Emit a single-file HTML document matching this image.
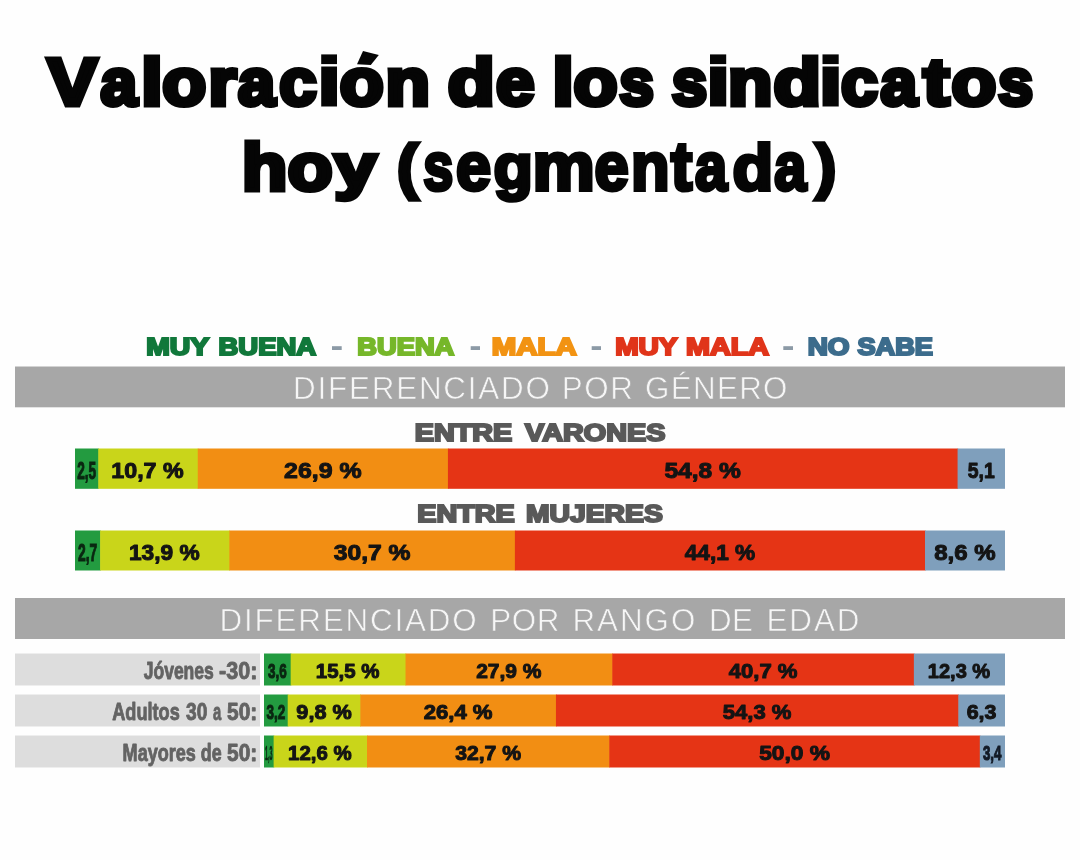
<!DOCTYPE html><html><head><meta charset="utf-8"><title>Valoración de los sindicatos hoy</title>
<style>html,body{margin:0;padding:0;background:#fefefe;}body{width:1080px;height:860px;overflow:hidden;font-family:"Liberation Sans", sans-serif;}svg{display:block;font-family:"Liberation Sans", sans-serif;will-change:transform;}</style></head><body>
<svg width="1080" height="860" viewBox="0 0 1080 860" shape-rendering="geometricPrecision">
<rect x="0" y="0" width="1080" height="860" fill="#fefefe"/>
<rect x="15.00" y="366.50" width="1050.00" height="40.80" fill="#a7a7a7"/>
<rect x="15.00" y="598.00" width="1050.00" height="41.00" fill="#a7a7a7"/>
<rect x="75.00" y="448.50" width="23.85" height="40.30" fill="#239b40"/>
<rect x="98.25" y="448.50" width="100.11" height="40.30" fill="#c9d51a"/>
<rect x="197.76" y="448.50" width="250.77" height="40.30" fill="#f28e13"/>
<rect x="447.93" y="448.50" width="510.24" height="40.30" fill="#e53415"/>
<rect x="957.57" y="448.50" width="47.43" height="40.30" fill="#7f9fbc"/>
<rect x="75.00" y="530.50" width="25.71" height="40.00" fill="#239b40"/>
<rect x="100.11" y="530.50" width="129.87" height="40.00" fill="#c9d51a"/>
<rect x="229.38" y="530.50" width="286.11" height="40.00" fill="#f28e13"/>
<rect x="514.89" y="530.50" width="410.73" height="40.00" fill="#e53415"/>
<rect x="925.02" y="530.50" width="79.98" height="40.00" fill="#7f9fbc"/>
<rect x="264.00" y="653.50" width="27.28" height="32.00" fill="#239b40"/>
<rect x="290.68" y="653.50" width="115.46" height="32.00" fill="#c9d51a"/>
<rect x="405.53" y="653.50" width="207.34" height="32.00" fill="#f28e13"/>
<rect x="612.27" y="653.50" width="302.19" height="32.00" fill="#e53415"/>
<rect x="913.86" y="653.50" width="91.14" height="32.00" fill="#7f9fbc"/>
<rect x="264.00" y="694.50" width="24.31" height="32.00" fill="#239b40"/>
<rect x="287.71" y="694.50" width="73.22" height="32.00" fill="#c9d51a"/>
<rect x="360.33" y="694.50" width="196.22" height="32.00" fill="#f28e13"/>
<rect x="555.95" y="694.50" width="402.96" height="32.00" fill="#e53415"/>
<rect x="958.32" y="694.50" width="46.68" height="32.00" fill="#7f9fbc"/>
<rect x="264.00" y="735.50" width="10.23" height="32.00" fill="#239b40"/>
<rect x="273.63" y="735.50" width="93.97" height="32.00" fill="#c9d51a"/>
<rect x="367.00" y="735.50" width="242.91" height="32.00" fill="#f28e13"/>
<rect x="609.31" y="735.50" width="371.10" height="32.00" fill="#e53415"/>
<rect x="979.81" y="735.50" width="25.19" height="32.00" fill="#7f9fbc"/>
<rect x="15.00" y="653.50" width="245.00" height="32.00" fill="#dddddd"/>
<rect x="15.00" y="694.50" width="245.00" height="32.00" fill="#dddddd"/>
<rect x="15.00" y="735.50" width="245.00" height="32.00" fill="#dddddd"/>
<rect x="332.00" y="346.20" width="9.70" height="3.80" fill="#8c9aa6"/>
<rect x="470.70" y="346.20" width="9.30" height="3.80" fill="#8c9aa6"/>
<rect x="591.70" y="346.20" width="9.30" height="3.80" fill="#8c9aa6"/>
<rect x="783.30" y="346.20" width="9.70" height="3.80" fill="#8c9aa6"/>
<text transform="translate(77.14,478.69) scale(0.5579,1.0000)" font-size="24.4" font-weight="bold" fill="#0a2611" stroke="#0a2611" stroke-width="1.1" stroke-linejoin="miter" stroke-miterlimit="3">2,5</text>
<text transform="translate(111.34,477.66) scale(1.0805,1.0000)" font-size="21.5" font-weight="bold" fill="#141414" stroke="#141414" stroke-width="1.0" stroke-linejoin="round" stroke-miterlimit="3">10,7 %</text>
<text transform="translate(284.04,477.66) scale(1.1579,1.0000)" font-size="21.5" font-weight="bold" fill="#141414" stroke="#141414" stroke-width="1.0" stroke-linejoin="round" stroke-miterlimit="3">26,9 %</text>
<text transform="translate(664.44,477.66) scale(1.1431,1.0000)" font-size="21.5" font-weight="bold" fill="#141414" stroke="#141414" stroke-width="1.0" stroke-linejoin="round" stroke-miterlimit="3">54,8 %</text>
<text transform="translate(967.71,477.66) scale(0.9023,1.0000)" font-size="21.5" font-weight="bold" fill="#141414" stroke="#141414" stroke-width="1.0" stroke-linejoin="round" stroke-miterlimit="3">5,1</text>
<text transform="translate(78.07,560.54) scale(0.5679,1.0000)" font-size="24.4" font-weight="bold" fill="#0a2611" stroke="#0a2611" stroke-width="1.1" stroke-linejoin="miter" stroke-miterlimit="3">2,7</text>
<text transform="translate(128.90,559.51) scale(1.0564,1.0000)" font-size="21.5" font-weight="bold" fill="#141414" stroke="#141414" stroke-width="1.0" stroke-linejoin="round" stroke-miterlimit="3">13,9 %</text>
<text transform="translate(333.72,559.51) scale(1.1469,1.0000)" font-size="21.5" font-weight="bold" fill="#141414" stroke="#141414" stroke-width="1.0" stroke-linejoin="round" stroke-miterlimit="3">30,7 %</text>
<text transform="translate(684.68,559.51) scale(1.0553,1.0000)" font-size="21.5" font-weight="bold" fill="#141414" stroke="#141414" stroke-width="1.0" stroke-linejoin="round" stroke-miterlimit="3">44,1 %</text>
<text transform="translate(934.25,559.51) scale(1.1178,1.0000)" font-size="21.5" font-weight="bold" fill="#141414" stroke="#141414" stroke-width="1.0" stroke-linejoin="round" stroke-miterlimit="3">8,6 %</text>
<text transform="translate(267.91,677.58) scale(0.6749,1.0000)" font-size="20.0" font-weight="bold" fill="#0a2611" stroke="#0a2611" stroke-width="1.1" stroke-linejoin="miter" stroke-miterlimit="3">3,6</text>
<text transform="translate(315.84,677.58) scale(1.0224,1.0000)" font-size="20.0" font-weight="bold" fill="#141414" stroke="#141414" stroke-width="1.0" stroke-linejoin="round" stroke-miterlimit="3">15,5 %</text>
<text transform="translate(476.19,677.58) scale(1.0496,1.0000)" font-size="20.0" font-weight="bold" fill="#141414" stroke="#141414" stroke-width="1.0" stroke-linejoin="round" stroke-miterlimit="3">27,9 %</text>
<text transform="translate(728.74,677.58) scale(1.1052,1.0000)" font-size="20.0" font-weight="bold" fill="#141414" stroke="#141414" stroke-width="1.0" stroke-linejoin="round" stroke-miterlimit="3">40,7 %</text>
<text transform="translate(927.83,677.58) scale(1.0013,1.0000)" font-size="20.0" font-weight="bold" fill="#141414" stroke="#141414" stroke-width="1.0" stroke-linejoin="round" stroke-miterlimit="3">12,3 %</text>
<text transform="translate(266.43,718.58) scale(0.6752,1.0000)" font-size="20.0" font-weight="bold" fill="#0a2611" stroke="#0a2611" stroke-width="1.1" stroke-linejoin="miter" stroke-miterlimit="3">3,2</text>
<text transform="translate(296.36,718.58) scale(1.0819,1.0000)" font-size="20.0" font-weight="bold" fill="#141414" stroke="#141414" stroke-width="1.0" stroke-linejoin="round" stroke-miterlimit="3">9,8 %</text>
<text transform="translate(423.69,718.58) scale(1.1057,1.0000)" font-size="20.0" font-weight="bold" fill="#141414" stroke="#141414" stroke-width="1.0" stroke-linejoin="round" stroke-miterlimit="3">26,4 %</text>
<text transform="translate(722.80,718.58) scale(1.1021,1.0000)" font-size="20.0" font-weight="bold" fill="#141414" stroke="#141414" stroke-width="1.0" stroke-linejoin="round" stroke-miterlimit="3">54,3 %</text>
<text transform="translate(966.70,718.58) scale(1.0690,1.0000)" font-size="20.0" font-weight="bold" fill="#141414" stroke="#141414" stroke-width="1.0" stroke-linejoin="round" stroke-miterlimit="3">6,3</text>
<text transform="translate(265.01,759.58) scale(0.2682,1.0000)" font-size="20.0" font-weight="bold" fill="#0a2611" stroke="#0a2611" stroke-width="0.5" stroke-linejoin="miter" stroke-miterlimit="3">1,3</text>
<text transform="translate(288.11,759.58) scale(1.0208,1.0000)" font-size="20.0" font-weight="bold" fill="#141414" stroke="#141414" stroke-width="1.0" stroke-linejoin="round" stroke-miterlimit="3">12,6 %</text>
<text transform="translate(455.15,759.58) scale(1.0600,1.0000)" font-size="20.0" font-weight="bold" fill="#141414" stroke="#141414" stroke-width="1.0" stroke-linejoin="round" stroke-miterlimit="3">32,7 %</text>
<text transform="translate(759.13,759.58) scale(1.1373,1.0000)" font-size="20.0" font-weight="bold" fill="#141414" stroke="#141414" stroke-width="1.0" stroke-linejoin="round" stroke-miterlimit="3">50,0 %</text>
<text transform="translate(982.98,759.58) scale(0.6654,1.0000)" font-size="20.0" font-weight="bold" fill="#121a26" stroke="#121a26" stroke-width="1.1" stroke-linejoin="miter" stroke-miterlimit="3">3,4</text>
<text transform="translate(143.68,678.55) scale(0.7275,1.0000)" font-size="24.1" font-weight="bold" fill="#636363" stroke="#636363" stroke-width="0.9" stroke-linejoin="round" stroke-miterlimit="3">Jóvenes</text>
<text transform="translate(218.98,678.55) scale(0.8955,1.0000)" font-size="24.1" font-weight="bold" fill="#636363" stroke="#636363" stroke-width="0.9" stroke-linejoin="round" stroke-miterlimit="3">-30:</text>
<text transform="translate(112.23,719.55) scale(0.7528,1.0000)" font-size="24.1" font-weight="bold" fill="#636363" stroke="#636363" stroke-width="0.9" stroke-linejoin="round" stroke-miterlimit="3">Adultos</text>
<text transform="translate(186.05,719.55) scale(0.7953,1.0000)" font-size="24.1" font-weight="bold" fill="#636363" stroke="#636363" stroke-width="0.9" stroke-linejoin="round" stroke-miterlimit="3">30</text>
<text transform="translate(212.92,719.55) scale(0.6125,1.0000)" font-size="24.1" font-weight="bold" fill="#636363" stroke="#636363" stroke-width="0.9" stroke-linejoin="round" stroke-miterlimit="3">a</text>
<text transform="translate(226.99,719.55) scale(0.8699,1.0000)" font-size="24.1" font-weight="bold" fill="#636363" stroke="#636363" stroke-width="0.9" stroke-linejoin="round" stroke-miterlimit="3">50:</text>
<text transform="translate(122.60,760.55) scale(0.7497,1.0000)" font-size="24.1" font-weight="bold" fill="#636363" stroke="#636363" stroke-width="0.9" stroke-linejoin="round" stroke-miterlimit="3">Mayores</text>
<text transform="translate(200.78,760.55) scale(0.7417,1.0000)" font-size="24.1" font-weight="bold" fill="#636363" stroke="#636363" stroke-width="0.9" stroke-linejoin="round" stroke-miterlimit="3">de</text>
<text transform="translate(226.99,760.55) scale(0.8699,1.0000)" font-size="24.1" font-weight="bold" fill="#636363" stroke="#636363" stroke-width="0.9" stroke-linejoin="round" stroke-miterlimit="3">50:</text>
<text transform="translate(47.59,104.50) scale(1.1271,1.0000)" font-size="66.3" font-weight="bold" fill="#050505" stroke="#050505" stroke-width="5.0" stroke-linejoin="miter" stroke-miterlimit="3">V</text>
<text transform="translate(100.51,104.50) scale(0.9927,1.0000)" font-size="66.3" font-weight="bold" fill="#050505" stroke="#050505" stroke-width="5.0" stroke-linejoin="miter" stroke-miterlimit="3">a</text>
<text transform="translate(141.22,104.50) scale(1.1581,1.0000)" font-size="66.3" font-weight="bold" fill="#050505" stroke="#050505" stroke-width="5.0" stroke-linejoin="miter" stroke-miterlimit="3">l</text>
<text transform="translate(162.36,104.50) scale(1.0858,1.0000)" font-size="66.3" font-weight="bold" fill="#050505" stroke="#050505" stroke-width="5.0" stroke-linejoin="miter" stroke-miterlimit="3">o</text>
<text transform="translate(208.58,104.50) scale(1.0854,1.0000)" font-size="66.3" font-weight="bold" fill="#050505" stroke="#050505" stroke-width="5.0" stroke-linejoin="miter" stroke-miterlimit="3">r</text>
<text transform="translate(238.02,104.50) scale(1.0051,1.0000)" font-size="66.3" font-weight="bold" fill="#050505" stroke="#050505" stroke-width="5.0" stroke-linejoin="miter" stroke-miterlimit="3">a</text>
<text transform="translate(279.36,104.50) scale(1.0135,1.0000)" font-size="66.3" font-weight="bold" fill="#050505" stroke="#050505" stroke-width="5.0" stroke-linejoin="miter" stroke-miterlimit="3">c</text>
<text transform="translate(318.72,103.97) scale(1.1217,1.0098)" font-size="66.3" font-weight="bold" fill="#050505" stroke="#050505" stroke-width="5.0" stroke-linejoin="miter" stroke-miterlimit="3">ı</text>
<text transform="translate(339.86,104.50) scale(1.0858,1.0000)" font-size="66.3" font-weight="bold" fill="#050505" stroke="#050505" stroke-width="5.0" stroke-linejoin="miter" stroke-miterlimit="3">o</text>
<text transform="translate(385.56,104.50) scale(1.0969,1.0000)" font-size="66.3" font-weight="bold" fill="#050505" stroke="#050505" stroke-width="5.0" stroke-linejoin="miter" stroke-miterlimit="3">n</text>
<text transform="translate(447.70,104.50) scale(1.1580,1.0000)" font-size="66.3" font-weight="bold" fill="#050505" stroke="#050505" stroke-width="5.0" stroke-linejoin="miter" stroke-miterlimit="3">d</text>
<text transform="translate(496.05,104.50) scale(1.0438,1.0000)" font-size="66.3" font-weight="bold" fill="#050505" stroke="#050505" stroke-width="5.0" stroke-linejoin="miter" stroke-miterlimit="3">e</text>
<text transform="translate(552.53,104.50) scale(1.1510,1.0000)" font-size="66.3" font-weight="bold" fill="#050505" stroke="#050505" stroke-width="5.0" stroke-linejoin="miter" stroke-miterlimit="3">l</text>
<text transform="translate(573.55,104.50) scale(1.0883,1.0000)" font-size="66.3" font-weight="bold" fill="#050505" stroke="#050505" stroke-width="5.0" stroke-linejoin="miter" stroke-miterlimit="3">o</text>
<text transform="translate(619.31,104.50) scale(0.9398,1.0000)" font-size="66.3" font-weight="bold" fill="#050505" stroke="#050505" stroke-width="5.0" stroke-linejoin="miter" stroke-miterlimit="3">s</text>
<text transform="translate(671.83,104.50) scale(0.9613,1.0000)" font-size="66.3" font-weight="bold" fill="#050505" stroke="#050505" stroke-width="5.0" stroke-linejoin="miter" stroke-miterlimit="3">s</text>
<text transform="translate(707.46,103.97) scale(1.1501,1.0098)" font-size="66.3" font-weight="bold" fill="#050505" stroke="#050505" stroke-width="5.0" stroke-linejoin="miter" stroke-miterlimit="3">ı</text>
<text transform="translate(728.06,104.50) scale(1.0969,1.0000)" font-size="66.3" font-weight="bold" fill="#050505" stroke="#050505" stroke-width="5.0" stroke-linejoin="miter" stroke-miterlimit="3">n</text>
<text transform="translate(773.40,104.50) scale(1.1710,1.0000)" font-size="66.3" font-weight="bold" fill="#050505" stroke="#050505" stroke-width="5.0" stroke-linejoin="miter" stroke-miterlimit="3">d</text>
<text transform="translate(819.96,103.97) scale(1.1501,1.0098)" font-size="66.3" font-weight="bold" fill="#050505" stroke="#050505" stroke-width="5.0" stroke-linejoin="miter" stroke-miterlimit="3">ı</text>
<text transform="translate(841.06,104.50) scale(1.0002,1.0000)" font-size="66.3" font-weight="bold" fill="#050505" stroke="#050505" stroke-width="5.0" stroke-linejoin="miter" stroke-miterlimit="3">c</text>
<text transform="translate(880.51,104.50) scale(0.9927,1.0000)" font-size="66.3" font-weight="bold" fill="#050505" stroke="#050505" stroke-width="5.0" stroke-linejoin="miter" stroke-miterlimit="3">a</text>
<text transform="translate(923.17,104.50) scale(1.1804,1.0000)" font-size="66.3" font-weight="bold" fill="#050505" stroke="#050505" stroke-width="5.0" stroke-linejoin="miter" stroke-miterlimit="3">t</text>
<text transform="translate(951.55,104.50) scale(1.1057,1.0000)" font-size="66.3" font-weight="bold" fill="#050505" stroke="#050505" stroke-width="5.0" stroke-linejoin="miter" stroke-miterlimit="3">o</text>
<text transform="translate(998.12,104.50) scale(0.9532,1.0000)" font-size="66.3" font-weight="bold" fill="#050505" stroke="#050505" stroke-width="5.0" stroke-linejoin="miter" stroke-miterlimit="3">s</text>
<text transform="translate(242.10,189.50) scale(1.1169,1.0000)" font-size="66.28787878787878" font-weight="bold" fill="#050505" stroke="#050505" stroke-width="5.0" stroke-linejoin="miter" stroke-miterlimit="3">h</text>
<text transform="translate(287.85,189.50) scale(1.1061,1.0000)" font-size="66.28787878787878" font-weight="bold" fill="#050505" stroke="#050505" stroke-width="5.0" stroke-linejoin="miter" stroke-miterlimit="3">o</text>
<text transform="translate(334.36,186.89) scale(1.1492,0.9182)" font-size="66.28787878787878" font-weight="bold" fill="#050505" stroke="#050505" stroke-width="5.0" stroke-linejoin="miter" stroke-miterlimit="3">y</text>
<text transform="translate(396.63,187.41) scale(0.9588,0.8868)" font-size="68.18181818181817" font-weight="bold" fill="#050505" stroke="#050505" stroke-width="4.0" stroke-linejoin="miter" stroke-miterlimit="3">(</text>
<text transform="translate(423.14,190.00) scale(0.7915,1.0000)" font-size="68.18181818181817" font-weight="bold" fill="#050505" stroke="#050505" stroke-width="4.0" stroke-linejoin="miter" stroke-miterlimit="3">s</text>
<text transform="translate(456.07,190.00) scale(0.9245,1.0000)" font-size="68.18181818181817" font-weight="bold" fill="#050505" stroke="#050505" stroke-width="4.0" stroke-linejoin="miter" stroke-miterlimit="3">e</text>
<text transform="translate(493.42,187.81) scale(0.9467,0.9182)" font-size="68.18181818181817" font-weight="bold" fill="#050505" stroke="#050505" stroke-width="4.0" stroke-linejoin="miter" stroke-miterlimit="3">g</text>
<text transform="translate(532.52,190.00) scale(1.0273,1.0000)" font-size="68.18181818181817" font-weight="bold" fill="#050505" stroke="#050505" stroke-width="4.0" stroke-linejoin="miter" stroke-miterlimit="3">m</text>
<text transform="translate(594.39,190.00) scale(0.9028,1.0000)" font-size="68.18181818181817" font-weight="bold" fill="#050505" stroke="#050505" stroke-width="4.0" stroke-linejoin="miter" stroke-miterlimit="3">e</text>
<text transform="translate(631.07,190.00) scale(0.9242,1.0000)" font-size="68.18181818181817" font-weight="bold" fill="#050505" stroke="#050505" stroke-width="4.0" stroke-linejoin="miter" stroke-miterlimit="3">n</text>
<text transform="translate(671.09,190.00) scale(0.9310,1.0000)" font-size="68.18181818181817" font-weight="bold" fill="#050505" stroke="#050505" stroke-width="4.0" stroke-linejoin="miter" stroke-miterlimit="3">t</text>
<text transform="translate(695.00,190.00) scale(0.8478,1.0000)" font-size="68.18181818181817" font-weight="bold" fill="#050505" stroke="#050505" stroke-width="4.0" stroke-linejoin="miter" stroke-miterlimit="3">a</text>
<text transform="translate(732.50,189.83) scale(0.9767,0.9582)" font-size="68.18181818181817" font-weight="bold" fill="#050505" stroke="#050505" stroke-width="4.0" stroke-linejoin="miter" stroke-miterlimit="3">d</text>
<text transform="translate(774.20,190.00) scale(0.8453,1.0000)" font-size="68.18181818181817" font-weight="bold" fill="#050505" stroke="#050505" stroke-width="4.0" stroke-linejoin="miter" stroke-miterlimit="3">a</text>
<text transform="translate(814.92,187.41) scale(0.9437,0.8868)" font-size="68.18181818181817" font-weight="bold" fill="#050505" stroke="#050505" stroke-width="4.0" stroke-linejoin="miter" stroke-miterlimit="3">)</text>
<text transform="translate(146.24,355.20) scale(1.1612,1.0000)" font-size="24.418604651162795" font-weight="bold" fill="#11783b" stroke="#11783b" stroke-width="2.2" stroke-linejoin="miter" stroke-miterlimit="3">MUY</text>
<text transform="translate(218.56,355.20) scale(1.1240,1.0000)" font-size="24.418604651162795" font-weight="bold" fill="#11783b" stroke="#11783b" stroke-width="2.2" stroke-linejoin="miter" stroke-miterlimit="3">BUENA</text>
<text transform="translate(357.36,355.20) scale(1.1171,1.0000)" font-size="24.418604651162795" font-weight="bold" fill="#76b72a" stroke="#76b72a" stroke-width="2.2" stroke-linejoin="miter" stroke-miterlimit="3">BUENA</text>
<text transform="translate(491.81,355.20) scale(1.2026,1.0000)" font-size="24.418604651162795" font-weight="bold" fill="#f29313" stroke="#f29313" stroke-width="2.2" stroke-linejoin="miter" stroke-miterlimit="3">MALA</text>
<text transform="translate(615.14,355.20) scale(1.1521,1.0000)" font-size="24.418604651162795" font-weight="bold" fill="#e0351a" stroke="#e0351a" stroke-width="2.2" stroke-linejoin="miter" stroke-miterlimit="3">MUY</text>
<text transform="translate(686.03,355.20) scale(1.1785,1.0000)" font-size="24.418604651162795" font-weight="bold" fill="#e0351a" stroke="#e0351a" stroke-width="2.2" stroke-linejoin="miter" stroke-miterlimit="3">MALA</text>
<text transform="translate(807.65,355.20) scale(1.1424,1.0000)" font-size="24.418604651162795" font-weight="bold" fill="#3c6c8c" stroke="#3c6c8c" stroke-width="2.2" stroke-linejoin="miter" stroke-miterlimit="3">NO</text>
<text transform="translate(857.44,355.20) scale(1.1119,1.0000)" font-size="24.418604651162795" font-weight="bold" fill="#3c6c8c" stroke="#3c6c8c" stroke-width="2.2" stroke-linejoin="miter" stroke-miterlimit="3">SABE</text>
<text transform="translate(414.76,440.60) scale(1.2356,1.0000)" font-size="23.255813953488374" font-weight="bold" fill="#595959" stroke="#595959" stroke-width="2.0" stroke-linejoin="miter" stroke-miterlimit="3">ENTRE</text>
<text transform="translate(525.12,440.60) scale(1.2389,1.0000)" font-size="23.255813953488374" font-weight="bold" fill="#595959" stroke="#595959" stroke-width="2.0" stroke-linejoin="miter" stroke-miterlimit="3">VARONES</text>
<text transform="translate(417.26,522.40) scale(1.2356,1.0000)" font-size="23.255813953488374" font-weight="bold" fill="#595959" stroke="#595959" stroke-width="2.0" stroke-linejoin="miter" stroke-miterlimit="3">ENTRE</text>
<text transform="translate(525.97,522.40) scale(1.2176,1.0000)" font-size="23.255813953488374" font-weight="bold" fill="#595959" stroke="#595959" stroke-width="2.0" stroke-linejoin="miter" stroke-miterlimit="3">MUJERES</text>
<text transform="translate(292.99,398.50) scale(1.0000,1.0000)" font-size="31.39534883720931" font-weight="normal" fill="#f6f6f6" stroke="#a7a7a7" stroke-width="0.6" stroke-linejoin="round" stroke-miterlimit="3" letter-spacing="1.807">DIFERENCIADO</text>
<text transform="translate(561.79,398.50) scale(1.0000,1.0000)" font-size="31.39534883720931" font-weight="normal" fill="#f6f6f6" stroke="#a7a7a7" stroke-width="0.6" stroke-linejoin="round" stroke-miterlimit="3" letter-spacing="1.515">POR</text>
<text transform="translate(645.07,398.50) scale(1.0000,1.0000)" font-size="31.39534883720931" font-weight="normal" fill="#f6f6f6" stroke="#a7a7a7" stroke-width="0.6" stroke-linejoin="round" stroke-miterlimit="3" letter-spacing="1.291">GÉNERO</text>
<text transform="translate(219.59,631.00) scale(1.0000,1.0000)" font-size="31.39534883720931" font-weight="normal" fill="#f6f6f6" stroke="#a7a7a7" stroke-width="0.6" stroke-linejoin="round" stroke-miterlimit="3" letter-spacing="1.816">DIFERENCIADO</text>
<text transform="translate(490.19,631.00) scale(1.0000,1.0000)" font-size="31.39534883720931" font-weight="normal" fill="#f6f6f6" stroke="#a7a7a7" stroke-width="0.6" stroke-linejoin="round" stroke-miterlimit="3" letter-spacing="0.665">POR</text>
<text transform="translate(572.39,631.00) scale(1.0000,1.0000)" font-size="31.39534883720931" font-weight="normal" fill="#f6f6f6" stroke="#a7a7a7" stroke-width="0.6" stroke-linejoin="round" stroke-miterlimit="3" letter-spacing="1.995">RANGO</text>
<text transform="translate(709.09,631.00) scale(1.0000,1.0000)" font-size="31.39534883720931" font-weight="normal" fill="#f6f6f6" stroke="#a7a7a7" stroke-width="0.6" stroke-linejoin="round" stroke-miterlimit="3" letter-spacing="0.184">DE</text>
<text transform="translate(766.49,631.00) scale(1.0000,1.0000)" font-size="31.39534883720931" font-weight="normal" fill="#f6f6f6" stroke="#a7a7a7" stroke-width="0.6" stroke-linejoin="round" stroke-miterlimit="3" letter-spacing="1.927">EDAD</text>
<rect x="321.20" y="54.40" width="15.80" height="9.70" fill="#050505"/>
<rect x="710.00" y="54.40" width="16.20" height="9.70" fill="#050505"/>
<rect x="822.50" y="54.40" width="16.20" height="9.70" fill="#050505"/>
<polygon points="363.0,51.1 378.8,55.0 370.8,64.9 357.0,64.2" fill="#050505"/>
</svg></body></html>
